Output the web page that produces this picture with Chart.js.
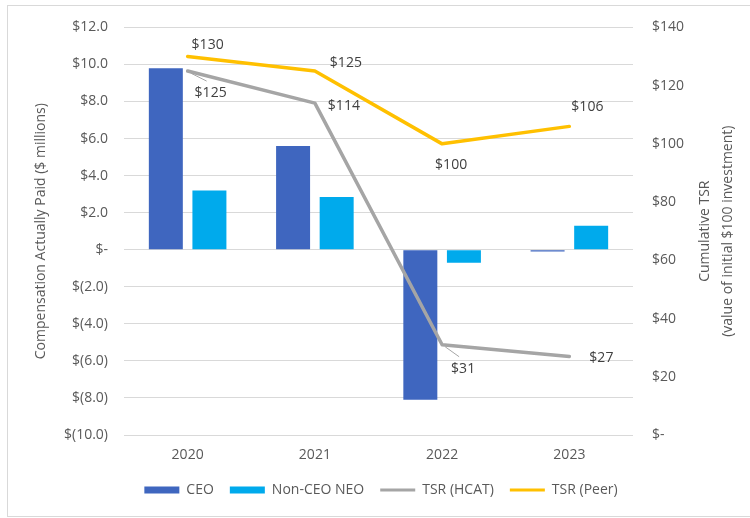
<!DOCTYPE html>
<html>
<head>
<meta charset="utf-8">
<script src="https://cdn.jsdelivr.net/npm/chart.js@4"></script>
<style>
html,body{margin:0;padding:0;background:#fff;}
#wrap{position:relative;width:750px;height:518px;overflow:hidden;}
#frame{position:absolute;left:7px;top:5px;width:760px;height:510px;border:1px solid #d9d9d9;}
canvas{position:absolute;left:0;top:0;}
</style>
</head>
<body>
<div id="wrap"><div id="frame"></div><canvas id="c" width="750" height="518"></canvas></div>
<script>
const categories = ['2020', '2021', '2022', '2023'];
const ceoValues = [9.8, 5.6, -8.1, -0.1];
const nonCeoValues = [3.2, 2.85, -0.7, 1.3];
const tsrHcat = [125, 114, 31, 27];
const tsrPeer = [130, 125, 100, 106];
const hcatLabels = ['$125', '$114', '$31', '$27'];
const peerLabels = ['$130', '$125', '$100', '$106'];
const leftTickValues = [-10, -8, -6, -4, -2, 0, 2, 4, 6, 8, 10, 12];
const leftTickLabels = ['$(10.0)', '$(8.0)', '$(6.0)', '$(4.0)', '$(2.0)', '$-', '$2.0', '$4.0', '$6.0', '$8.0', '$10.0', '$12.0'];
const rightTickValues = [0, 20, 40, 60, 80, 100, 120, 140];
const rightTickLabels = ['$-', '$20', '$40', '$60', '$80', '$100', '$120', '$140'];
const leftTitle = 'Compensation Actually Paid ($ millions)';
const rightTitleLines = ['Cumulative TSR', '(value of initial $100 investment)'];

// label placement offsets (pixels, relative to point)
const peerLabelOffsets = [[20, -11], [31, -8], [9, 21], [18, -19]];
const hcatLabelOffsets = [[23, 22], [29, 3], [21, 24], [32, 2]];
const hcatLeaders = [true, false, true, false];

const FONT = '"Open Sans", Lato, sans-serif';
const FS = 14;
const TXT = '#595959';

const overlay = {
  id: 'overlay',
  afterDatasetsDraw(chart) {
    const ctx = chart.ctx;
    const ca = chart.chartArea;
    ctx.save();
    ctx.font = FS + 'px ' + FONT;
    ctx.fillStyle = '#404040';
    ctx.textAlign = 'center';
    ctx.textBaseline = 'middle';
    const pm = chart.getDatasetMeta(3).data;
    const hm = chart.getDatasetMeta(2).data;
    pm.forEach((p, i) => {
      ctx.fillText(peerLabels[i], p.x + peerLabelOffsets[i][0], p.y + peerLabelOffsets[i][1]);
    });
    hm.forEach((p, i) => {
      const lx = p.x + hcatLabelOffsets[i][0], ly = p.y + hcatLabelOffsets[i][1];
      if (hcatLeaders[i]) {
        ctx.save();
        ctx.strokeStyle = '#a6a6a6';
        ctx.lineWidth = 1;
        ctx.beginPath();
        ctx.moveTo(p.x + 3, p.y + 2);
        ctx.lineTo(lx - 4, ly - 12);
        ctx.stroke();
        ctx.restore();
      }
      ctx.fillText(hcatLabels[i], lx, ly);
    });
    // axis titles
    const cy = (ca.top + ca.bottom) / 2;
    ctx.fillStyle = TXT;
    ctx.save();
    ctx.translate(41, cy);
    ctx.rotate(-Math.PI / 2);
    ctx.fillText(leftTitle, 0, 0);
    ctx.restore();
    ctx.save();
    ctx.translate(705, cy);
    ctx.rotate(-Math.PI / 2);
    ctx.fillText(rightTitleLines[0], 0, 0);
    ctx.fillText(rightTitleLines[1], 0, 23);
    ctx.restore();
    ctx.restore();
  }
};

new Chart(document.getElementById('c'), {
  type: 'bar',
  data: {
    labels: categories,
    datasets: [
      { label: 'CEO', data: ceoValues, backgroundColor: '#3F66BF', borderWidth: 0, yAxisID: 'y', order: 2,
        categoryPercentage: 0.685, barPercentage: 0.78 },
      { label: 'Non-CEO NEO', data: nonCeoValues, backgroundColor: '#00AAEC', borderWidth: 0, yAxisID: 'y', order: 2,
        categoryPercentage: 0.685, barPercentage: 0.78 },
      { type: 'line', label: 'TSR (HCAT)', data: tsrHcat, borderColor: '#A5A5A5', backgroundColor: '#A5A5A5',
        borderWidth: 3.5, pointRadius: 0, tension: 0, yAxisID: 'y1', order: 1,
        borderCapStyle: 'round', borderJoinStyle: 'round' },
      { type: 'line', label: 'TSR (Peer)', data: tsrPeer, borderColor: '#FFC000', backgroundColor: '#FFC000',
        borderWidth: 3.5, pointRadius: 0, tension: 0, yAxisID: 'y1', order: 0,
        borderCapStyle: 'round', borderJoinStyle: 'round' }
    ]
  },
  options: {
    responsive: false,
    animation: false,
    devicePixelRatio: 1,
    layout: { padding: { left: 12, right: 0, top: 24, bottom: 11 } },
    plugins: {
      tooltip: { enabled: false },
      legend: {
        position: 'bottom',
        labels: {
          font: { family: FONT, size: FS },
          color: TXT,
          usePointStyle: true,
          pointStyleWidth: 35,
          boxHeight: 7,
          padding: 16,
          sort: (a, b) => a.datasetIndex - b.datasetIndex,
          generateLabels(chart) {
            const items = Chart.defaults.plugins.legend.labels.generateLabels(chart);
            return items.map((it) => {
              const ds = chart.data.datasets[it.datasetIndex];
              if (it.datasetIndex < 2) {
                it.pointStyle = 'rect'; it.lineWidth = 0;
                it.fillStyle = ds.backgroundColor; it.strokeStyle = ds.backgroundColor;
              } else {
                it.pointStyle = 'line'; it.lineWidth = 3;
                it.strokeStyle = ds.borderColor; it.fillStyle = ds.borderColor;
              }
              return it;
            });
          }
        }
      }
    },
    scales: {
      x: {
        grid: { display: false, drawTicks: false },
        border: { display: false },
        ticks: { font: { family: FONT, size: FS }, color: TXT, padding: 12 },
        afterFit(s) { s.height = 32; }
      },
      y: {
        position: 'left',
        min: -10, max: 12,
        afterBuildTicks(s) { s.ticks = leftTickValues.map(v => ({ value: v })); },
        ticks: {
          font: { family: FONT, size: FS }, color: TXT, padding: 16,
          callback: (v) => leftTickLabels[leftTickValues.indexOf(v)]
        },
        grid: { color: '#d9d9d9', lineWidth: 1, drawTicks: false },
        border: { display: false },
        afterFit(s) { s.width = 112; }
      },
      y1: {
        position: 'right',
        min: 0, max: 140,
        afterBuildTicks(s) { s.ticks = rightTickValues.map(v => ({ value: v })); },
        ticks: {
          font: { family: FONT, size: FS }, color: TXT, padding: 19,
          callback: (v) => rightTickLabels[rightTickValues.indexOf(v)]
        },
        grid: { display: false, drawTicks: false },
        border: { display: false },
        afterFit(s) { s.width = 117; }
      }
    }
  },
  plugins: [overlay]
});
</script>
</body>
</html>
